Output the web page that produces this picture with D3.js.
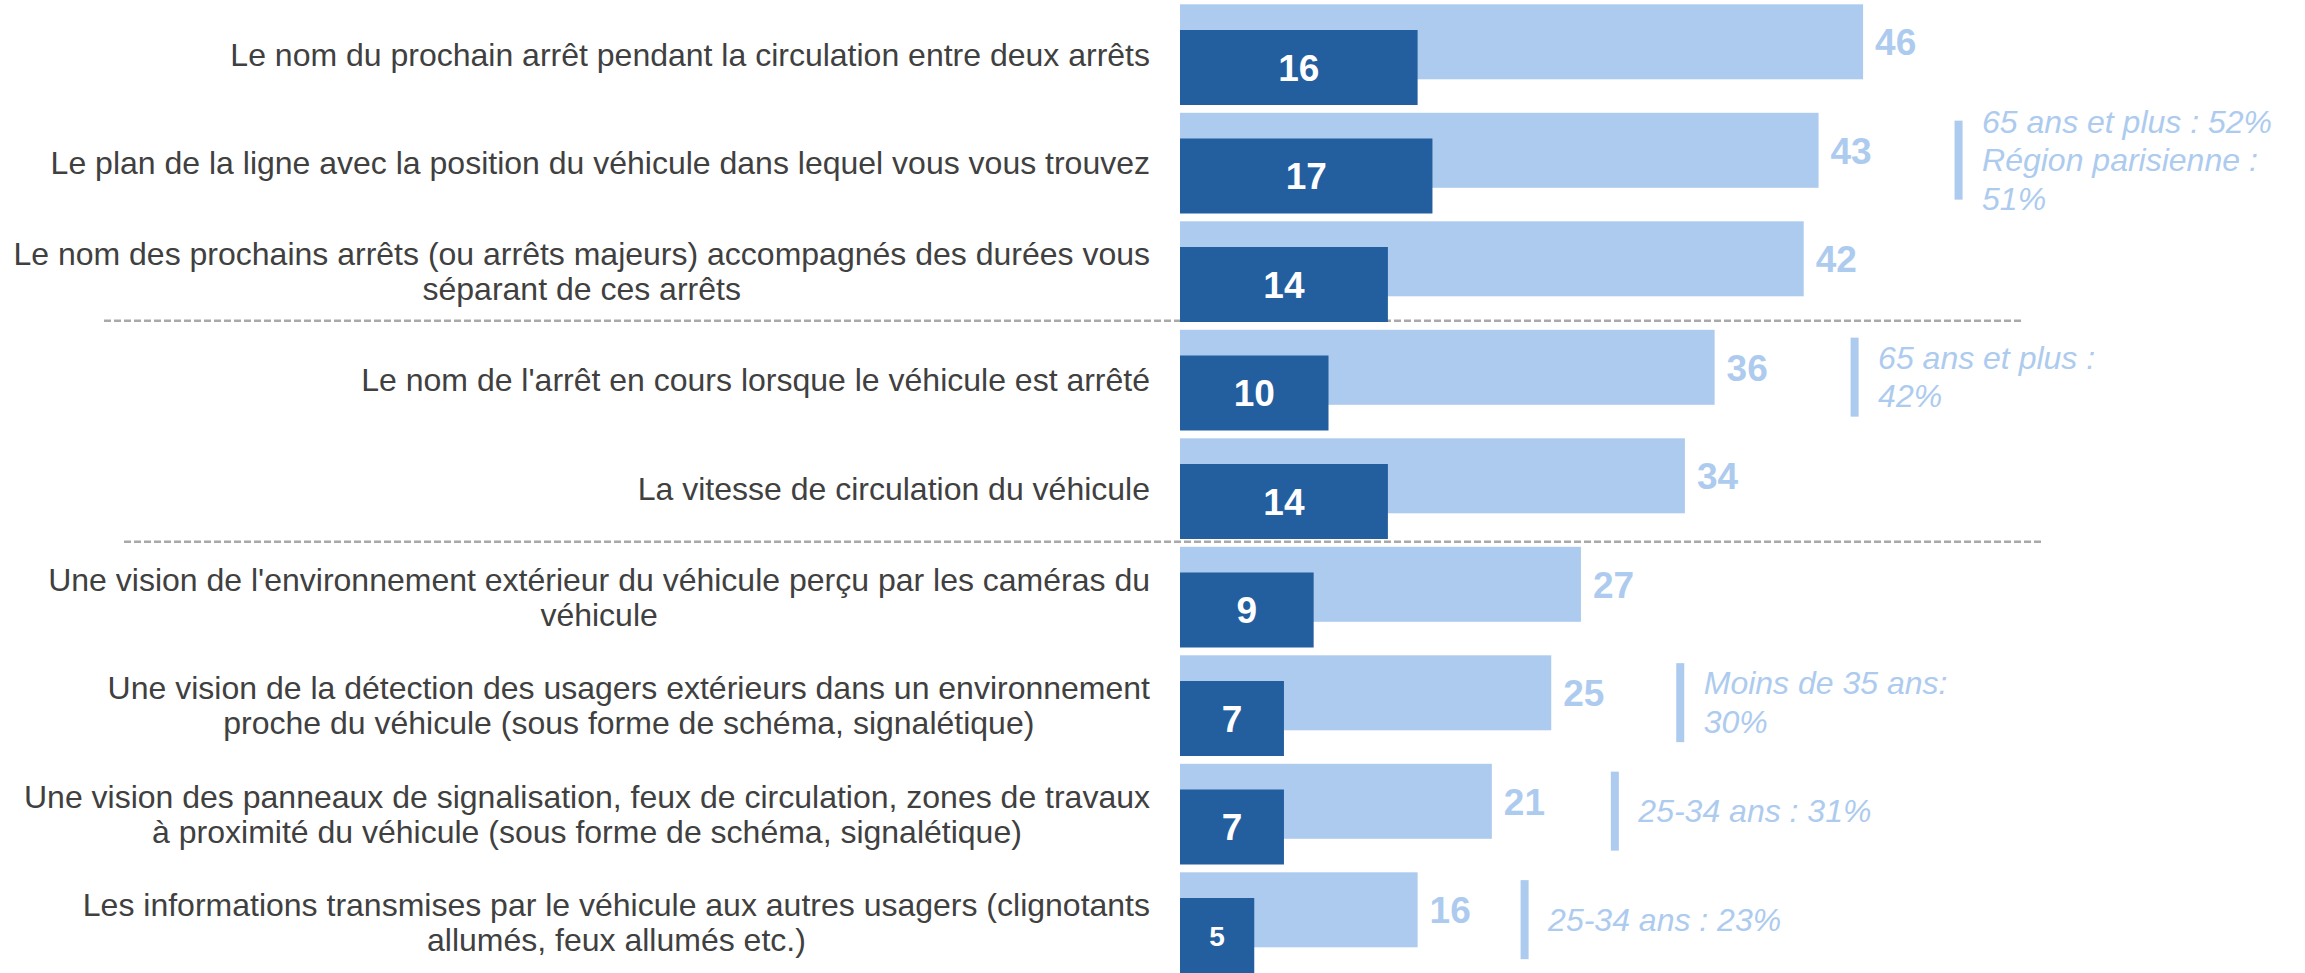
<!DOCTYPE html>
<html>
<head>
<meta charset="utf-8">
<script src="https://cdn.jsdelivr.net/npm/d3@7"></script>
<style>
  html, body { margin: 0; padding: 0; background: #ffffff; }
  svg { display: block; }
</style>
</head>
<body>
<svg id="chart" width="2305" height="973"></svg>
<script>
// ---------- DATA ----------
const categories = [
  "Le nom du prochain arrêt pendant la circulation entre deux arrêts",
  "Le plan de la ligne avec la position du véhicule dans lequel vous vous trouvez",
  "Le nom des prochains arrêts (ou arrêts majeurs) accompagnés des durées vous\nséparant de ces arrêts",
  "Le nom de l'arrêt en cours lorsque le véhicule est arrêté",
  "La vitesse de circulation du véhicule",
  "Une vision de l'environnement extérieur du véhicule perçu par les caméras du\nvéhicule",
  "Une vision de la détection des usagers extérieurs dans un environnement\nproche du véhicule (sous forme de schéma, signalétique)",
  "Une vision des panneaux de signalisation, feux de circulation, zones de travaux\nà proximité du véhicule (sous forme de schéma, signalétique)",
  "Les informations transmises par le véhicule aux autres usagers (clignotants\nallumés, feux allumés etc.)"
];
const totalValues = [46, 43, 42, 36, 34, 27, 25, 21, 16];
const firstValues = [16, 17, 14, 10, 14, 9, 7, 7, 5];
const annotations = [
  null,
  ["65 ans et plus : 52%", "Région parisienne :", "51%"],
  null,
  ["65 ans et plus :", "42%"],
  null,
  null,
  ["Moins de 35 ans:", "30%"],
  ["25-34 ans : 31%"],
  ["25-34 ans : 23%"]
];
const separatorsAfter = [2, 4];

// ---------- LAYOUT ----------
const lightColor = "#adcbee";
const darkColor = "#235e9f";
const textColor = "#404040";
const font = "'Liberation Sans', Arial, sans-serif";
const annotGap = [0, 136, 0, 136, 0, 0, 125, 119, 103];
const sepLayout = [{x1: 104, x2: 2023, dy: -9}, {x1: 124, x2: 2044, dy: -5}];

const svg = d3.select("#chart");

const x = d3.scaleLinear().domain([0, 46]).range([1180, 1180 + 46 * 14.85]);
const y = d3.scaleBand().domain(categories).range([4.3, 4.3 + 9 * 108.5]).paddingInner(0).paddingOuter(0);
const barH = 75;
const darkOffset = 25.7;

const rows = categories.map((c, i) => ({
  cat: c, total: totalValues[i], first: firstValues[i], annot: annotations[i], i
}));

// separators
separatorsAfter.forEach((k, j) => {
  const yy = y(categories[k + 1]) + sepLayout[j].dy;
  svg.append("line")
    .attr("x1", sepLayout[j].x1).attr("x2", sepLayout[j].x2)
    .attr("y1", yy).attr("y2", yy)
    .attr("stroke", "#a9a9a9").attr("stroke-width", 2.5)
    .attr("stroke-dasharray", "7,3");
});

// light bars
svg.append("g").selectAll("rect").data(rows).join("rect")
  .attr("x", x(0))
  .attr("y", d => y(d.cat))
  .attr("width", d => x(d.total) - x(0))
  .attr("height", barH)
  .attr("fill", lightColor);

// dark bars
svg.append("g").selectAll("rect").data(rows).join("rect")
  .attr("x", x(0))
  .attr("y", d => y(d.cat) + darkOffset)
  .attr("width", d => x(d.first) - x(0))
  .attr("height", barH)
  .attr("fill", darkColor);

// light value labels
const valFont = 37;
svg.append("g").selectAll("text").data(rows).join("text")
  .attr("x", d => x(d.total) + 12)
  .attr("y", d => y(d.cat) + barH / 2 + valFont * 0.358)
  .attr("font-family", font).attr("font-weight", "bold").attr("font-size", valFont)
  .attr("fill", lightColor)
  .text(d => d.total);

// dark value labels
const small = d => (x(d.first) - x(0)) < 90;
svg.append("g").selectAll("text").data(rows).join("text")
  .attr("x", d => (x(0) + x(d.first)) / 2)
  .attr("text-anchor", "middle")
  .attr("font-family", font).attr("font-weight", "bold")
  .attr("font-size", d => small(d) ? 28 : valFont)
  .attr("y", d => y(d.cat) + darkOffset + barH / 2 + (small(d) ? 28 : valFont) * 0.358)
  .attr("fill", "#ffffff")
  .text(d => d.first);

// category labels
const catFont = 32;
const lineH = 35;
const labelRight = 1150;
rows.forEach(d => {
  const lines = d.cat.split("\n");
  const center = y(d.cat) + (darkOffset + barH) / 2;
  const g = svg.append("g");
  const texts = lines.map((ln, k) => g.append("text")
    .attr("font-family", font).attr("font-size", catFont)
    .attr("fill", textColor)
    .attr("text-anchor", "middle")
    .attr("y", center + catFont * 0.34 - (lines.length - 1) * lineH / 2 + k * lineH)
    .text(ln));
  const maxW = d3.max(texts, t => t.node().getComputedTextLength());
  texts.forEach(t => t.attr("x", labelRight - maxW / 2));
});

// annotations
const annFont = 32;
const annLineH = 38.5;
rows.filter(d => d.annot).forEach(d => {
  const center = y(d.cat) + (darkOffset + barH) / 2 - 3;
  const bx = x(d.total) + annotGap[d.i];
  svg.append("rect")
    .attr("x", bx).attr("y", center - 39.5)
    .attr("width", 8).attr("height", 79)
    .attr("fill", lightColor);
  d.annot.forEach((ln, k) => {
    svg.append("text")
      .attr("x", bx + 27.5)
      .attr("y", center + annFont * 0.34 - (d.annot.length - 1) * annLineH / 2 + k * annLineH)
      .attr("font-family", font).attr("font-style", "italic").attr("font-size", annFont)
      .attr("fill", lightColor)
      .text(ln);
  });
});
</script>
</body>
</html>
